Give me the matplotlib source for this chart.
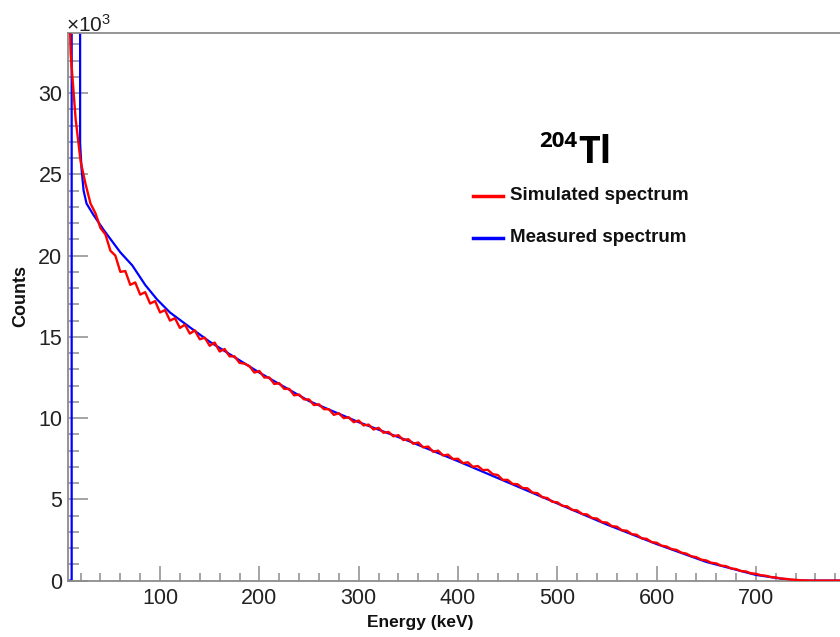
import numpy as np
import matplotlib
matplotlib.use("Agg")
import matplotlib.pyplot as plt
from matplotlib.ticker import MultipleLocator

plt.rcParams['font.family'] = ['Liberation Sans', 'DejaVu Sans']
plt.rcParams['mathtext.fontset'] = 'custom'
plt.rcParams['mathtext.rm'] = 'Liberation Sans'

# ---------------------------------------------------------------------------
# data (counts in units of 10^3)

# measured spectrum
meas_energy = [2, 11, 11, 19.5, 19.5, 21, 23, 26, 33, 43, 60, 72, 85, 97, 110, 132,
               150, 175, 200, 250, 300, 350, 400, 450, 500, 550, 600, 650, 700,
               730, 745, 790]
meas_counts = [0, 0, 45, 45, 26.9, 25.3, 24.0, 23.2, 22.5, 21.6, 20.2, 19.4, 18.2,
               17.3, 16.5, 15.5, 14.7, 13.75, 12.8, 11.05, 9.75, 8.6, 7.35, 6.05,
               4.75, 3.45, 2.25, 1.15, 0.35, 0.08, 0.0, 0.0]

# simulated spectrum, 5 keV bins from 5 to 785 keV
sim_energy = np.arange(5, 790, 5)
sim_counts = [
    45.0, 32.4, 28.4, 25.8, 24.4, 23.2, 22.6, 21.7, 21.3, 20.3,
    20.0, 19.0, 19.05, 18.2, 18.35, 17.6, 17.75, 17.05, 17.2, 16.5,
    16.65, 16.0, 16.15, 15.55, 15.75, 15.2, 15.4, 14.85, 14.95, 14.45,
    14.65, 14.1, 14.25, 13.8, 13.8, 13.4, 13.35, 13.2, 12.8, 12.9,
    12.5, 12.5, 12.1, 12.15, 11.8, 11.8, 11.4, 11.45, 11.15, 11.15,
    10.8, 10.85, 10.55, 10.55, 10.2, 10.3, 10.0, 10.05, 9.75, 9.85,
    9.55, 9.6, 9.3, 9.4, 9.1, 9.15, 8.88, 8.95, 8.65, 8.7,
    8.42, 8.5, 8.2, 8.25, 7.93, 8.0, 7.7, 7.75, 7.48, 7.5,
    7.23, 7.28, 7.0, 7.05, 6.8, 6.82, 6.55, 6.5, 6.2, 6.2,
    5.95, 5.93, 5.7, 5.68, 5.42, 5.38, 5.13, 5.08, 4.85, 4.82,
    4.6, 4.57, 4.35, 4.32, 4.1, 4.07, 3.85, 3.82, 3.6, 3.57,
    3.35, 3.32, 3.1, 3.07, 2.86, 2.82, 2.6, 2.57, 2.37, 2.33,
    2.15, 2.1, 1.94, 1.89, 1.72, 1.66, 1.5, 1.44, 1.29, 1.24,
    1.1, 1.06, 0.92, 0.89, 0.75, 0.71, 0.59, 0.56, 0.45, 0.42,
    0.33, 0.3, 0.22, 0.19, 0.13, 0.11, 0.06, 0.05, 0.02, 0.01,
    0, 0, 0, 0, 0, 0, 0,
]

x_ticks = [100, 200, 300, 400, 500, 600, 700]
y_ticks = [0, 5, 10, 15, 20, 25, 30]

# ---------------------------------------------------------------------------

W, H = 840, 637
fig = plt.figure(figsize=(W / 100, H / 100), dpi=100)
ax = fig.add_axes([68 / W, (H - 580.6) / H, 1 - 68 / W, (580.6 - 33) / H])

ax.plot(meas_energy, meas_counts, color='#0000ff', lw=1.6, zorder=2)
ax.plot(sim_energy, sim_counts, color='#ff0000', lw=1.7, zorder=3)

ax.set_xlim(7.3, 784.7)
ax.set_ylim(0, 33.7)

ax.set_xticks(x_ticks)
ax.set_yticks(y_ticks)
ax.xaxis.set_minor_locator(MultipleLocator(20))
ax.yaxis.set_minor_locator(MultipleLocator(1))

grey = '#8c8c8c'
for side in ['left', 'bottom', 'top']:
    ax.spines[side].set_color(grey)
    ax.spines[side].set_linewidth(1.3)
ax.spines['right'].set_visible(False)

ax.tick_params(axis='x', which='major', direction='in', length=11, width=1.1,
               color=grey, labelsize=15.5, labelcolor='#222222', pad=5)
ax.tick_params(axis='x', which='minor', direction='in', length=5.8, width=1.1,
               color=grey)
ax.tick_params(axis='y', which='major', direction='in', length=14.5, width=1.1,
               color=grey, labelsize=15.5, labelcolor='#222222', pad=4)
ax.tick_params(axis='y', which='minor', direction='in', length=8, width=1.1,
               color=grey)

fig.text(420 / W, 1 - 622 / H, 'Energy (keV)', ha='center', va='center',
         fontsize=12.5, fontweight='bold', color='#111111')
fig.text(21 / W, 1 - 296 / H, 'Counts', ha='center', va='center', rotation=90,
         fontsize=13, fontweight='bold', color='#111111')
fig.text(66 / W, 1 - 25 / H, r'$\mathregular{\times10^{3}}$', ha='left', va='center',
         fontsize=15, color='#222222')

# isotope label
fig.text(539 / W, 1 - 147 / H, '204', ha='left', va='baseline', fontsize=16,
         fontweight='bold', family='Open Sans')
fig.text(578 / W, 1 - 163 / H, 'Tl', ha='left', va='baseline', fontsize=27,
         fontweight='bold', family='Open Sans')

# legend entries
legend = [('Simulated spectrum', '#ff0000', 196), ('Measured spectrum', '#0000ff', 238)]
for label, col, ypix in legend:
    fig.add_artist(plt.Line2D([473 / W, 503 / W], [1 - ypix / H, 1 - ypix / H],
                              color=col, lw=2.5, transform=fig.transFigure))
    fig.text(510 / W, 1 - ypix / H, label, ha='left', va='center', fontsize=13.5,
             fontweight='bold', color='#111111')

fig.savefig('out.png', dpi=100)
